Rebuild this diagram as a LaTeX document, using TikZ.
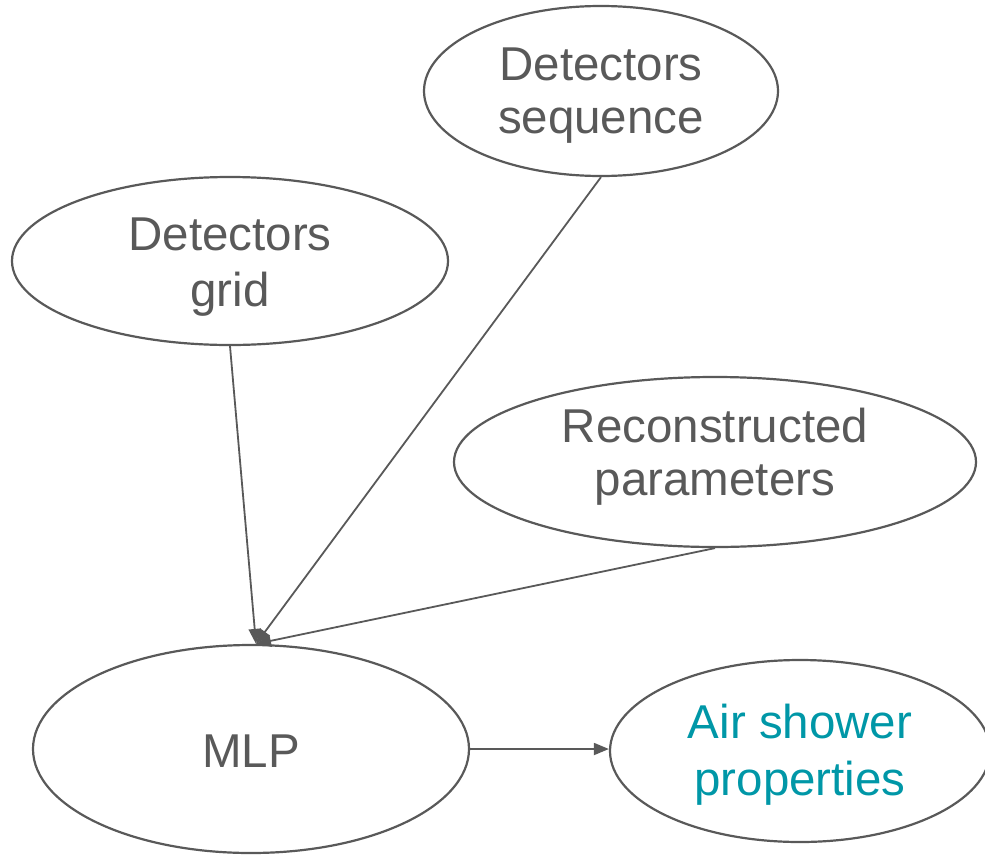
\documentclass[tikz,border=0pt]{standalone}
\usepackage{fontspec}
\setmainfont{Liberation Sans}
\usetikzlibrary{shapes.geometric,arrows.meta}
\definecolor{linegray}{HTML}{595959}
\definecolor{textgray}{HTML}{595959}
\definecolor{tealtext}{HTML}{0097A7}
\begin{document}
\begin{tikzpicture}[x=1pt,y=-1pt,
  oval/.style={ellipse,draw=linegray,line width=2.2pt,inner sep=0pt},
  lbl/.style={anchor=base,inner sep=0pt,text=textgray,font=\fontsize{47.5}{55}\selectfont},
  tlbl/.style={lbl,text=tealtext},
  conn/.style={draw=linegray,line width=1.8pt,-{Triangle[length=15pt,width=12pt]}}]
\useasboundingbox (0,0) rectangle (985,854);
\node[oval,minimum width=354pt,minimum height=170pt] (seq) at (601,91) {};
\node[oval,minimum width=436pt,minimum height=168pt] (grid) at (230,261) {};
\node[oval,minimum width=522pt,minimum height=170pt] (rec) at (715,462) {};
\node[oval,minimum width=436pt,minimum height=208pt] (mlp) at (251,749) {};
\node[oval,minimum width=380pt,minimum height=182pt] (air) at (800,751) {};
\node[lbl] (seq1) at (601,80) {Detectors};
\node[lbl] (seq2) at (601,133) {sequence};
\node[lbl] (grid1) at (230,250) {Detectors};
\node[lbl] (grid2) at (230,306) {grid};
\node[lbl] (rec1) at (715,442) {Reconstructed};
\node[lbl] (rec2) at (715,495) {parameters};
\node[lbl] (mlpt) at (251,767) {MLP};
\node[tlbl] (air1) at (800,738) {Air shower};
\node[tlbl] (air2) at (800,795) {properties};
\coordinate (hit) at ([xshift=5pt]mlp.north);
\draw[conn] (grid.south) -- (hit);
\draw[conn] (seq.south) -- (hit);
\draw[conn] (rec.south) -- (hit);
\draw[conn] (mlp.east) -- (mlp.east -| air.west);
\end{tikzpicture}
\end{document}
